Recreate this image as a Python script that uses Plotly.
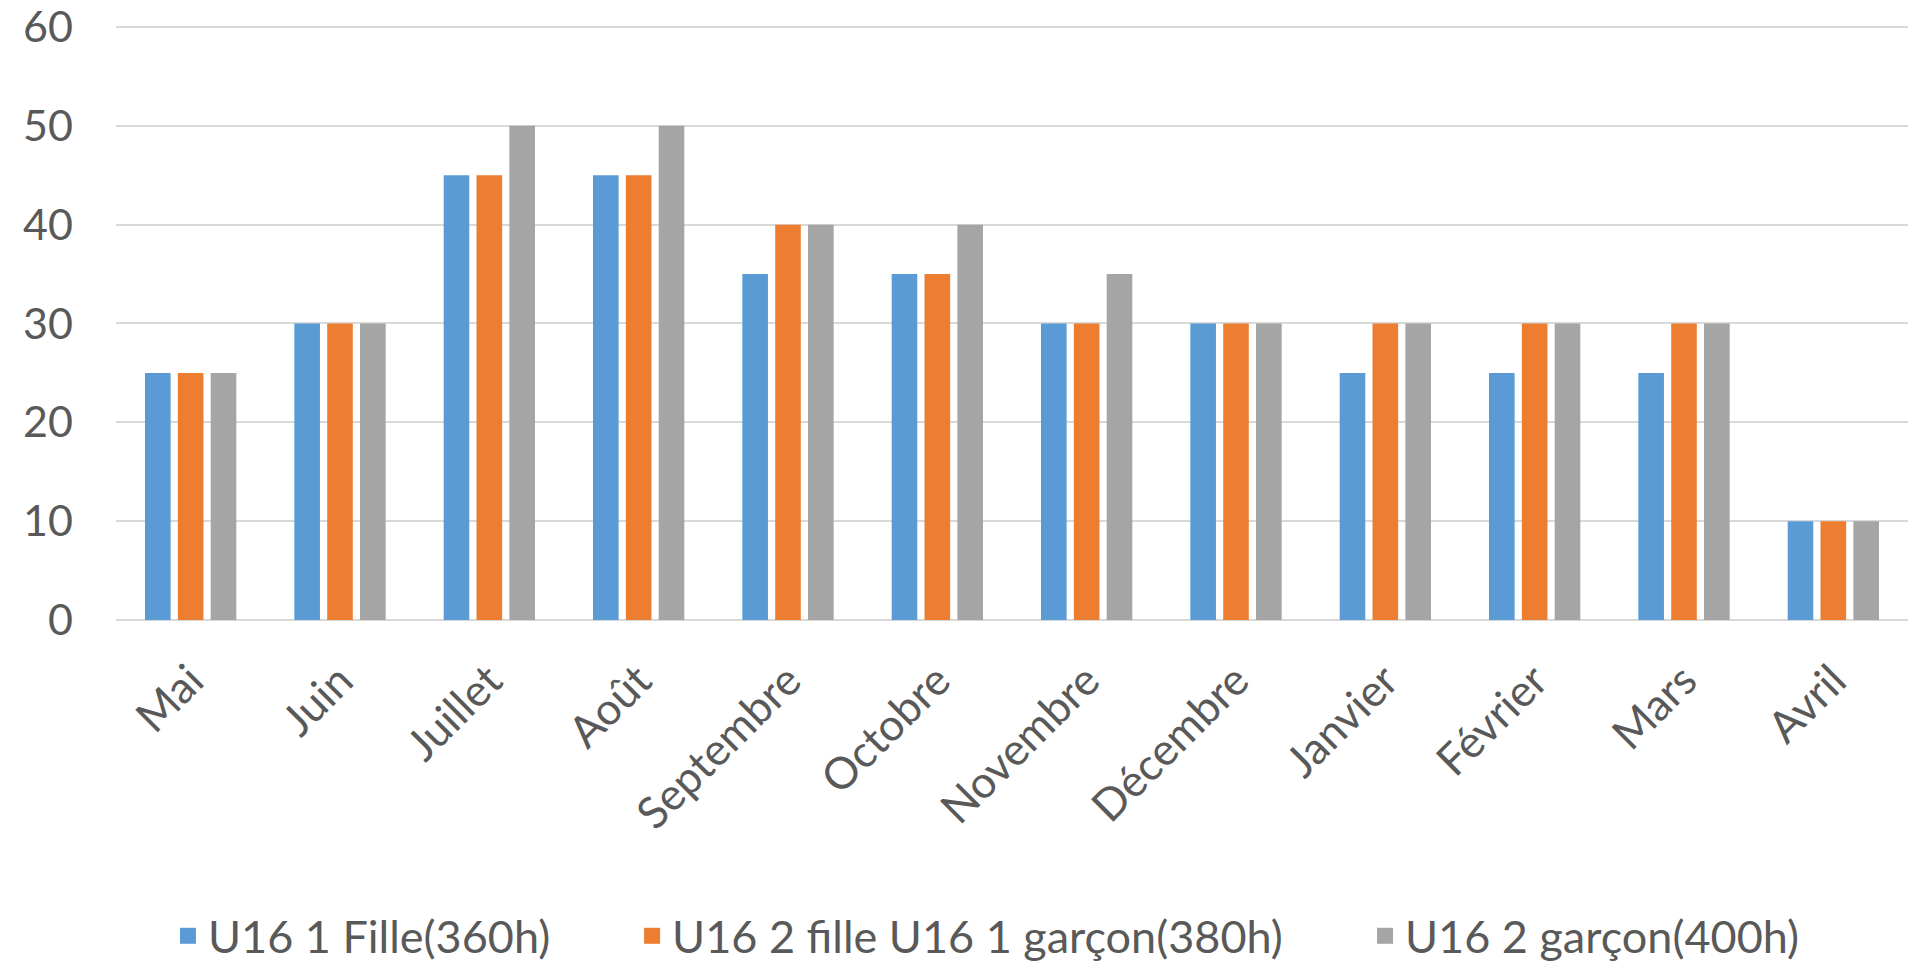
import plotly.graph_objects as go

# Monthly hours per team
months = ["Mai", "Juin", "Juillet", "Août", "Septembre", "Octobre",
          "Novembre", "Décembre", "Janvier", "Février", "Mars", "Avril"]

u16_1_fille = [25, 30, 45, 45, 35, 35, 30, 30, 25, 25, 25, 10]
u16_2_fille_1_garcon = [25, 30, 45, 45, 40, 35, 30, 30, 30, 30, 30, 10]
u16_2_garcon = [25, 30, 50, 50, 40, 40, 35, 30, 30, 30, 30, 10]

series_names = ["U16 1 Fille(360h)", "U16 2 fille U16 1 garçon(380h)", "U16 2 garçon(400h)"]
series_colors = ["#5B9BD5", "#ED7D31", "#A5A5A5"]
y_ticks = [0, 10, 20, 30, 40, 50, 60]

FONT = "Lato"
TEXT_COLOR = "#595959"

# one legend box per series, laid out left to right under the chart
legend_ids = ["legend", "legend2", "legend3"]
legend_x = [0.029, 0.288, 0.697]

fig = go.Figure()
for name, values, color, lg in zip(series_names,
                                   [u16_1_fille, u16_2_fille_1_garcon, u16_2_garcon],
                                   series_colors, legend_ids):
    fig.add_trace(go.Bar(x=months, y=values, name=name, legendgroup=name,
                         showlegend=False,
                         marker=dict(color=color, line=dict(width=0))))
    # legend-only entry with a larger square swatch
    fig.add_trace(go.Scatter(x=[None], y=[None], mode="markers", name=name,
                             legendgroup=name, legend=lg, showlegend=True,
                             marker=dict(symbol="square", size=16, color=color)))

legend_style = dict(
    orientation="h",
    yref="container", y=0.028, yanchor="middle", xanchor="left",
    font=dict(family=FONT, size=45, color=TEXT_COLOR),
    itemwidth=30,
    bgcolor="rgba(0,0,0,0)",
)

fig.update_layout(
    width=1908, height=963,
    paper_bgcolor="white", plot_bgcolor="white",
    margin=dict(l=116, r=0, t=25, b=343, autoexpand=False),
    barmode="group", bargap=0.34, bargroupgap=0.22,
    font=dict(family=FONT, color=TEXT_COLOR),
    showlegend=True,
    legend=dict(legend_style, x=legend_x[0]),
    legend2=dict(legend_style, x=legend_x[1]),
    legend3=dict(legend_style, x=legend_x[2]),
)

fig.update_xaxes(
    type="category",
    tickangle=-45,
    tickfont=dict(family=FONT, size=44, color=TEXT_COLOR),
    showgrid=False, showline=False, zeroline=False,
    ticks="", ticklabelstandoff=25, automargin=False,
)

fig.update_yaxes(
    range=[0, 60.2],
    tickvals=y_ticks,
    tickfont=dict(family=FONT, size=43, color=TEXT_COLOR),
    showgrid=True, gridcolor="#D9D9D9", gridwidth=2,
    zeroline=True, zerolinecolor="#D9D9D9", zerolinewidth=2,
    showline=False, ticks="", ticklabelstandoff=42, automargin=False,
)

fig.write_html("out.html")
